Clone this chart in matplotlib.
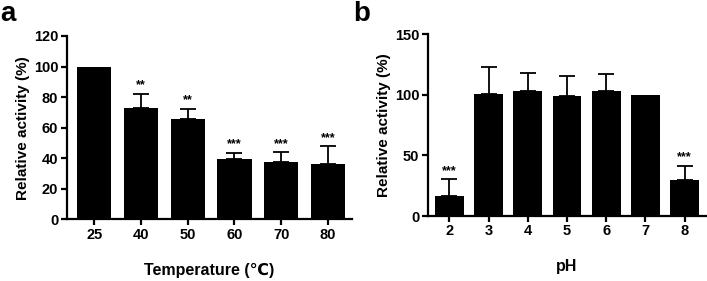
import matplotlib
matplotlib.use('Agg')
import matplotlib.pyplot as plt
import numpy as np

plt.rcParams['font.family'] = ['Liberation Sans', 'DejaVu Sans']
plt.rcParams['font.weight'] = 'bold'

# panel a: temperature
temp_labels = ['25', '40', '50', '60', '70', '80']
temp_values = [100, 73.1, 65.9, 39.3, 37.5, 36.2]
temp_err = [0, 9.2, 6.5, 4.3, 6.6, 11.8]
temp_stars = ['', '**', '**', '***', '***', '***']

# panel b: pH
ph_labels = ['2', '3', '4', '5', '6', '7', '8']
ph_values = [16.2, 100.5, 103.2, 98.8, 103.5, 100.2, 29.7]
ph_err = [14.3, 22.8, 15.2, 16.7, 13.8, 0, 11.6]
ph_stars = ['***', '', '', '', '', '', '***']

fig = plt.figure(figsize=(7.07, 2.81), dpi=100)
ax1 = fig.add_axes([0.0943, 0.219, 0.404, 0.653])
ax2 = fig.add_axes([0.605, 0.231, 0.394, 0.647])


def draw(ax, labels, values, err, stars, ymax, yticks, xlim, xlabel, star_off, pad):
    x = np.arange(len(labels))
    ax.bar(x, values, width=0.73, color='black', zorder=2)
    for xi, v, e in zip(x, values, err):
        if e > 0:
            ax.errorbar(xi, v, yerr=[[0], [e]], fmt='none', ecolor='black',
                        elinewidth=1.3, capsize=5.5, capthick=1.3, zorder=1)
    for xi, v, e, s in zip(x, values, err, stars):
        if s:
            ax.text(xi, v + e + star_off, s, ha='center', va='bottom',
                    fontsize=9, fontweight='bold')
    ax.set_xlim(*xlim)
    ax.set_ylim(0, ymax)
    ax.set_yticks(yticks)
    ax.set_xticks(x)
    ax.set_xticklabels(labels)
    for side in ['top', 'right']:
        ax.spines[side].set_visible(False)
    for side in ['left', 'bottom']:
        ax.spines[side].set_linewidth(1.6)
    ax.tick_params(width=1.6, length=4, labelsize=10.5, pad=2)
    for lab in ax.get_xticklabels() + ax.get_yticklabels():
        lab.set_fontweight('bold')
    ax.set_ylabel('Relative activity (%)', fontsize=11, fontweight='bold', labelpad=3)
    ax.set_xlabel(xlabel, fontsize=11.5, fontweight='bold', labelpad=pad)


draw(ax1, temp_labels, temp_values, temp_err, temp_stars, 120,
     [0, 20, 40, 60, 80, 100, 120], (-0.59, 5.52), 'Temperature (℃)', 1.5, 15)
draw(ax2, ph_labels, ph_values, ph_err, ph_stars, 150,
     [0, 50, 100, 150], (-0.55, 6.55), 'pH', 2.0, 15)

fig.text(0.0, 0.995, 'a', fontsize=20, fontweight='bold', ha='left', va='top')
fig.text(0.500, 0.995, 'b', fontsize=20, fontweight='bold', ha='left', va='top')

fig.savefig('out.png', dpi=100)
